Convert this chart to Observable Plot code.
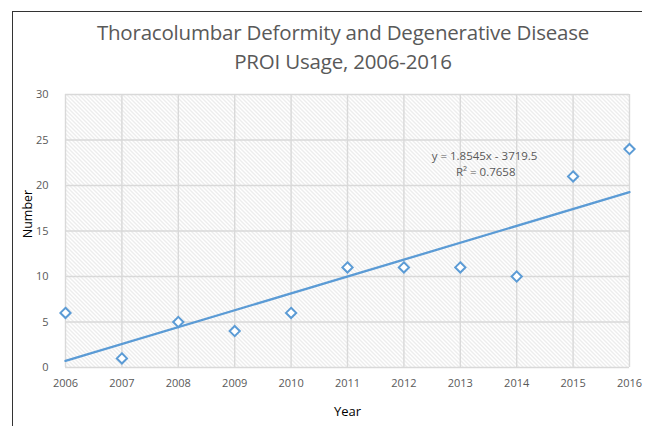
<!DOCTYPE html>
<html>
<head>
<meta charset="utf-8">
<script src="https://cdn.jsdelivr.net/npm/d3@7"></script>
<script src="https://cdn.jsdelivr.net/npm/@observablehq/plot@0.6"></script>
<style>
  html, body { margin: 0; padding: 0; background: #fff; }
  #wrap { position: relative; width: 646px; height: 426px; overflow: hidden; font-family: "Open Sans", sans-serif; }
  #frame { position: absolute; left: 12px; top: 11px; width: 629px; height: 430px; border-left: 1.5px solid #333; border-top: 1.5px solid #333; }
  #title { position: absolute; left: 0; top: 18px; width: 686px; text-align: center; color: #595959; font-size: 20.5px; line-height: 29px; letter-spacing: -0.2px; }
  #chart { position: absolute; left: 0; top: 0; }
</style>
</head>
<body>
<div id="wrap">
  <div id="chart"></div>
  <div id="frame"></div>
  <div id="title">Thoracolumbar Deformity and Degenerative Disease<br>PROI Usage, 2006-2016</div>
</div>
<script>
const years = [2006, 2007, 2008, 2009, 2010, 2011, 2012, 2013, 2014, 2015, 2016];
const counts = [6, 1, 5, 4, 6, 11, 11, 11, 10, 21, 24];
const yTicks = [0, 5, 10, 15, 20, 25, 30];
const equationLines = ["y = 1.8545x - 3719.5", "R² = 0.7658"];
const equationYear = [2013.43, 2013.45];
const equationValue = [23.2, 21.4];

const data = years.map((y, i) => ({year: y, count: counts[i]}));
const eq = equationLines.map((t, i) => ({text: t, x: equationYear[i], y: equationValue[i]}));

const blue = "#5b9bd5";
const plot = Plot.plot({
  width: 646,
  height: 426,
  marginLeft: 65,
  marginRight: 17,
  marginTop: 94,
  marginBottom: 59,
  style: {fontFamily: "Open Sans, sans-serif", background: "transparent", overflow: "visible"},
  x: {domain: [2006, 2016], ticks: years, tickFormat: d => String(d), label: null},
  y: {domain: [0, 30], ticks: yTicks, label: null},
  marks: [
    Plot.frame({fill: "url(#hatch)", stroke: "none"}),
    Plot.gridX(years, {stroke: "#d9d9d9", strokeOpacity: 1, strokeWidth: 1.4}),
    Plot.gridY(yTicks, {stroke: "#d9d9d9", strokeOpacity: 1, strokeWidth: 1.4}),
    Plot.axisX(years, {tickSize: 0, tickPadding: 12, fontSize: 11, fill: "#595959", tickFormat: d => String(d), label: null}),
    Plot.axisY(yTicks, {tickSize: 0, tickPadding: 17, fontSize: 11, fill: "#595959", label: null}),
    Plot.linearRegressionY(data, {x: "year", y: "count", ci: 0, stroke: blue, strokeWidth: 2.3}),
    Plot.dot(data, {x: "year", y: "count", symbol: "diamond2", r: 4.6, stroke: blue, strokeWidth: 2, fill: "white"}),
    Plot.text(eq, {x: "x", y: "y", text: "text", fontSize: 11.5, fill: "#595959"}),
    Plot.text(["Number"], {frameAnchor: "left", textAnchor: "middle", dx: -38, dy: -17, rotate: -90, fontSize: 12.5, fill: "#000", fontWeight: 500}),
    Plot.text(["Year"], {frameAnchor: "bottom", dy: 48, fontSize: 13, fill: "#000", fontWeight: 500})
  ]
});

const ns = "http://www.w3.org/2000/svg";
const defs = document.createElementNS(ns, "defs");
defs.innerHTML = '<pattern id="hatch" patternUnits="userSpaceOnUse" width="4" height="4">' +
  '<rect width="4" height="4" fill="#ffffff"/>' +
  '<path d="M-1,-1 L5,5 M-1,3 L1,5 M3,-1 L5,1" stroke="#dadada" stroke-width="1"/>' +
  '</pattern>';
plot.insertBefore(defs, plot.firstChild);
document.getElementById("chart").appendChild(plot);
</script>
</body>
</html>
